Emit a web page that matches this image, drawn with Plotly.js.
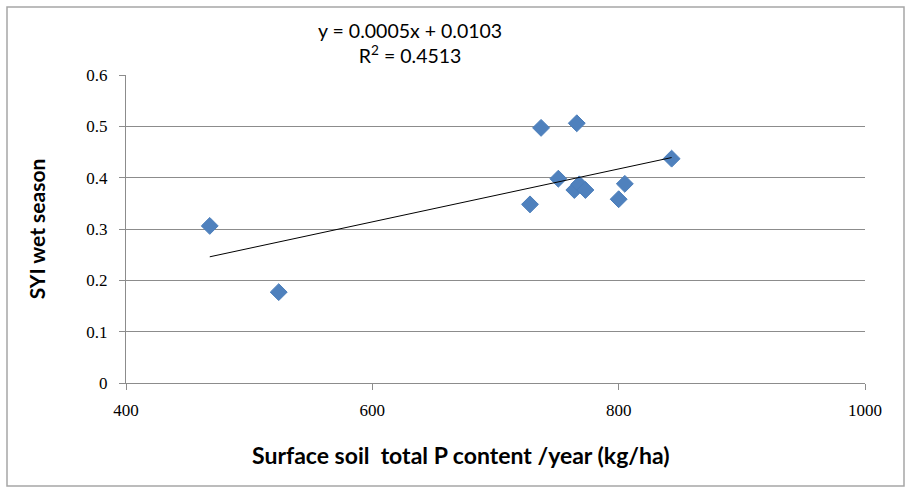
<!DOCTYPE html>
<html>
<head>
<meta charset="utf-8">
<script src="https://cdn.plot.ly/plotly-3.0.1.min.js"></script>
<style>
html,body{margin:0;padding:0;background:#fff;}
#chart{width:909px;height:490px;}
#chart .xtick text, #chart .ytick text {
  font-family: "Liberation Serif", "DejaVu Serif", serif !important;
  font-size: 17px !important;
  fill: #000 !important;
}
</style>
</head>
<body>
<div id="chart"></div>
<script>
// Data
const phosphorus = [468, 524, 728, 737, 751, 766, 764, 768, 773, 800, 805, 843];
const syiWet = [0.306, 0.177, 0.348, 0.497, 0.398, 0.506, 0.376, 0.387, 0.376, 0.358, 0.388, 0.437];
const equationText = "y = 0.0005x + 0.0103";
const r2Text = "R<sup>2</sup> = 0.4513";
const xTitle = "Surface soil  total P content /year (kg/ha)";
const yTitle = "SYI wet season";
const xTickVals = [400, 600, 800, 1000];
const yTickVals = [0, 0.1, 0.2, 0.3, 0.4, 0.5, 0.6];

// Least-squares linear trend from the data
const n = phosphorus.length;
const mx = phosphorus.reduce((a, b) => a + b, 0) / n;
const my = syiWet.reduce((a, b) => a + b, 0) / n;
let sxy = 0, sxx = 0;
for (let i = 0; i < n; i++) {
  sxy += (phosphorus[i] - mx) * (syiWet[i] - my);
  sxx += (phosphorus[i] - mx) ** 2;
}
const slope = sxy / sxx;
const intercept = my - slope * mx;
const trendX = [Math.min(...phosphorus), Math.max(...phosphorus)];
const trendY = trendX.map(x => slope * x + intercept);

const W = 909, H = 490;
const mL = 126, mR = 44, mT = 75, mB = 107;
const pw = W - mL - mR, ph = H - mT - mB;
const px = v => (v - mL) / pw;
const py = v => (H - mB - v) / ph;

const gridCol = '#8c8c8c';
const sans = 'Lato, "Liberation Sans", sans-serif';
const tickFont = {family: '"Liberation Serif", serif', size: 17, color: '#000'};

const traces = [
  {
    x: phosphorus, y: syiWet, type: 'scatter', mode: 'markers',
    marker: {symbol: 'diamond', size: 13, color: '#4F81BD', line: {color: '#4a7ebb', width: 1}},
    hoverinfo: 'x+y', showlegend: false
  },
  {
    x: trendX, y: trendY, type: 'scatter', mode: 'lines',
    line: {color: '#000', width: 1}, hoverinfo: 'skip', showlegend: false
  }
];

const layout = {
  width: W, height: H,
  margin: {l: mL, r: mR, t: mT, b: mB},
  paper_bgcolor: '#fff', plot_bgcolor: '#fff',
  showlegend: false,
  xaxis: {
    range: [400, 1000], tickmode: 'array', tickvals: xTickVals,
    showgrid: false, zeroline: false,
    showline: true, linecolor: gridCol, linewidth: 1,
    ticks: 'outside', ticklen: 6, tickcolor: gridCol, tickwidth: 1,
    tickfont: tickFont,
    ticklabelstandoff: 6,
    fixedrange: true
  },
  yaxis: {
    range: [0, 0.6], tickmode: 'array', tickvals: yTickVals,
    showgrid: true, gridcolor: gridCol, gridwidth: 1, zeroline: false,
    showline: true, linecolor: gridCol, linewidth: 1,
    ticks: 'outside', ticklen: 6, tickcolor: gridCol, tickwidth: 1,
    tickfont: tickFont,
    ticklabelstandoff: 8,
    title: {text: yTitle, font: {family: sans, size: 21, color: '#000', weight: 'bold'}, standoff: 34},
    fixedrange: true
  },
  annotations: [
    {xref: 'paper', yref: 'paper', x: px(410), y: py(43), text: equationText + '<br>' + r2Text, showarrow: false,
     xanchor: 'center', yanchor: 'middle', align: 'center', font: {family: sans, size: 19.5, color: '#000'}},
    {xref: 'paper', yref: 'paper', x: px(461), y: py(455), text: xTitle, showarrow: false,
     xanchor: 'center', yanchor: 'middle', font: {family: sans, size: 23, color: '#000', weight: 'bold'}}
  ],
  shapes: [
    {type: 'rect', xref: 'paper', yref: 'paper', x0: px(7), x1: px(904), y0: py(486), y1: py(7),
     line: {color: '#a6a6a6', width: 1.5}, fillcolor: 'rgba(0,0,0,0)', layer: 'below'}
  ]
};

Plotly.newPlot('chart', traces, layout, {displayModeBar: false, staticPlot: true});
</script>
</body>
</html>
